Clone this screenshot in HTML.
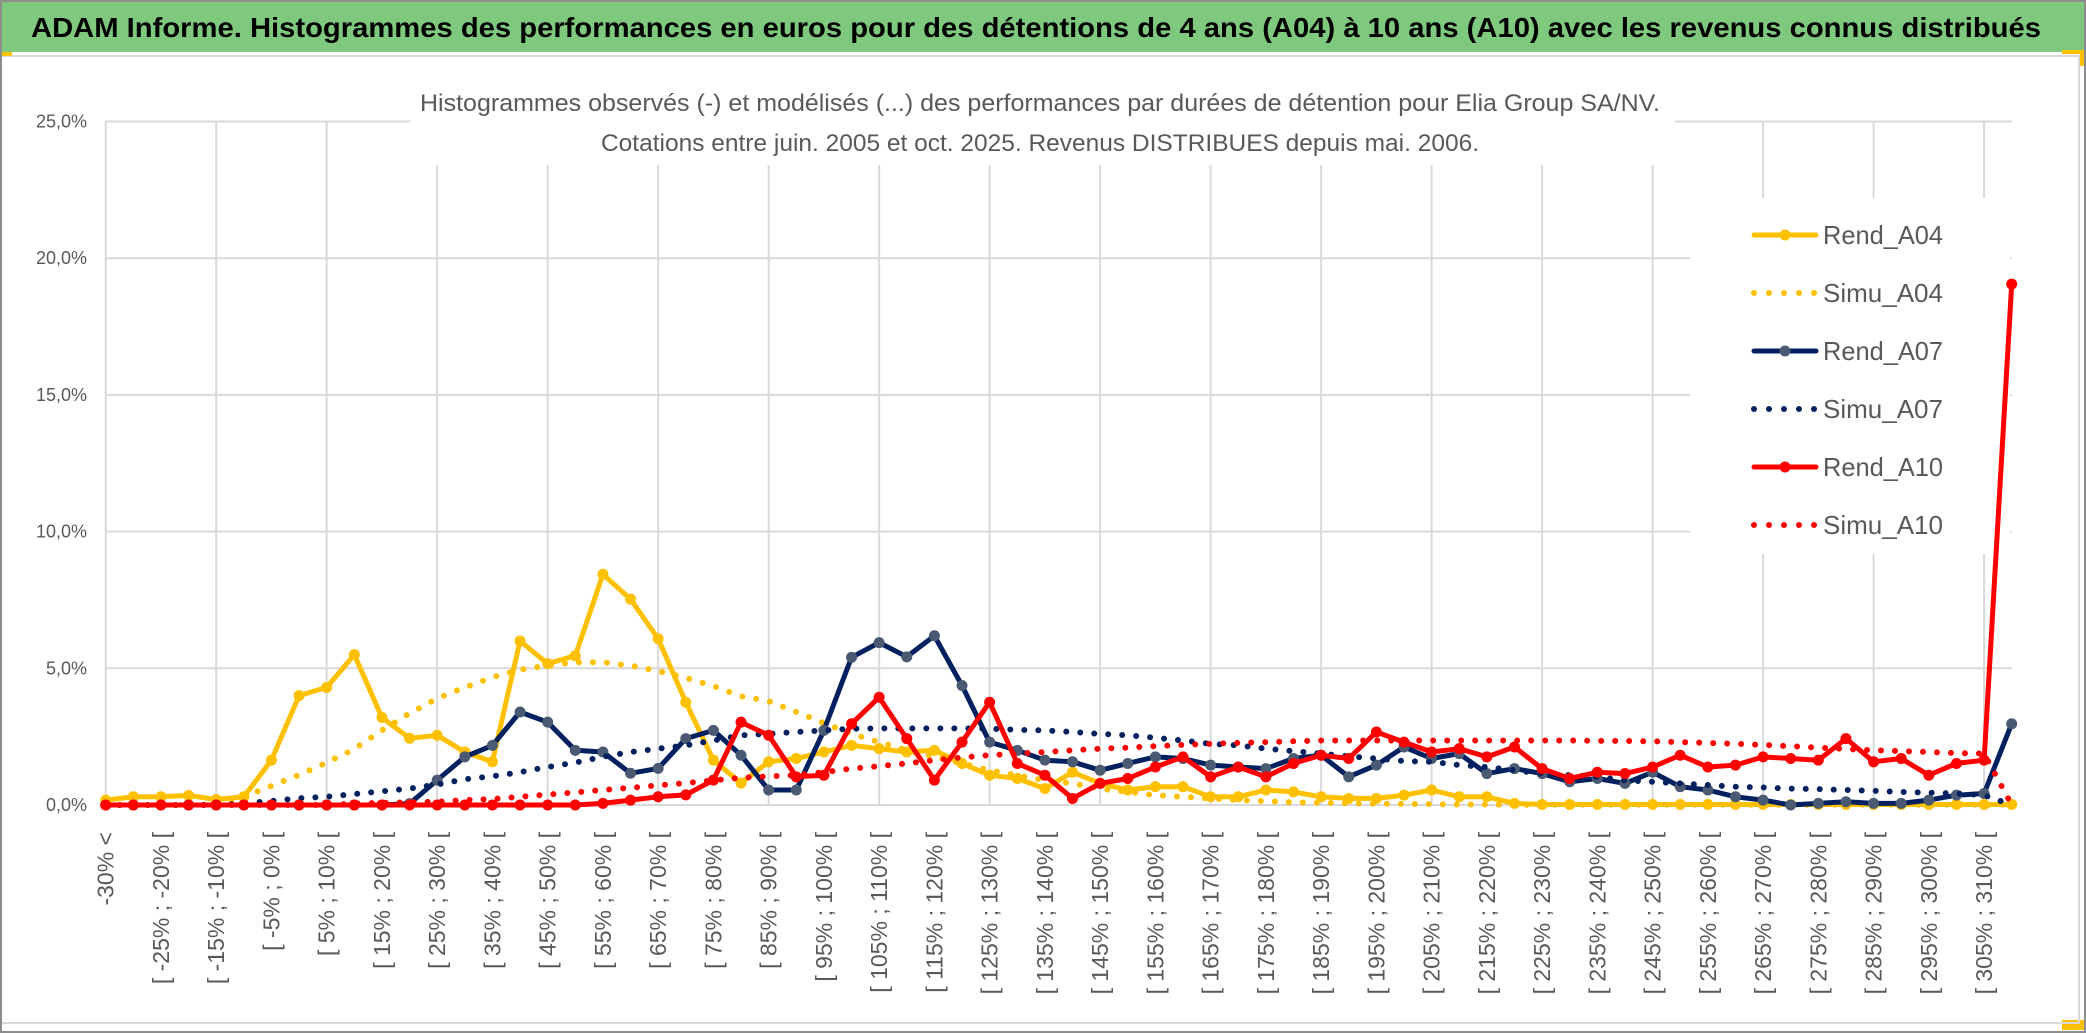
<!DOCTYPE html>
<html><head><meta charset="utf-8"><style>
html,body{margin:0;padding:0;background:#fff;}
svg{display:block;font-family:"Liberation Sans",sans-serif;}
</style></head><body>
<svg id="chart" width="2086" height="1033" viewBox="0 0 2086 1033">
  <rect x="0" y="0" width="2086" height="1033" fill="#fff"/>
  <rect x="1" y="1" width="2084" height="1031" fill="none" stroke="#8c8c8c" stroke-width="2"/>
  <rect x="2" y="2" width="2082" height="50" fill="#7fc97f"/>
  <line x1="2" y1="56" x2="2084" y2="56" stroke="#d9d9d9" stroke-width="2"/>
  <rect x="2" y="52" width="10" height="4" fill="#ffc000"/>
  <rect x="2062" y="50" width="22" height="4" fill="#ffc000"/>
  <rect x="2080" y="50" width="4" height="16" fill="#ffc000"/>
  <rect x="2062" y="1020" width="22" height="10" fill="#ffc000"/>
  <line x1="2" y1="1023" x2="2080" y2="1023" stroke="#d9d9d9" stroke-width="2"/>
  <line x1="2079" y1="56" x2="2079" y2="1023" stroke="#d9d9d9" stroke-width="2"/>
  <text x="31" y="37" font-size="28" font-weight="bold" fill="#000" textLength="2010" lengthAdjust="spacingAndGlyphs">ADAM Informe. Histogrammes des performances en euros pour des détentions de 4 ans (A04) à 10 ans (A10) avec les revenus connus distribués</text>
  <g id="grid"></g>
  <rect x="410" y="70" width="1265" height="95" fill="#fff"/>
  <text x="1040" y="111" font-size="24" fill="#595959" text-anchor="middle" textLength="1240" lengthAdjust="spacingAndGlyphs">Histogrammes observés (-) et modélisés (...) des performances par durées de détention pour Elia Group SA/NV.</text>
  <text x="1040" y="151" font-size="24" fill="#595959" text-anchor="middle" textLength="878" lengthAdjust="spacingAndGlyphs">Cotations entre juin. 2005 et oct. 2025. Revenus DISTRIBUES depuis mai. 2006.</text>
  <g id="yaxis"></g>
  <g id="xaxis"></g>
  <rect x="1690" y="198" width="320" height="356" fill="#fff"/>
  <g id="series"></g>
  <g id="legend"></g>
</svg>
<script>
const categories = (function(){const a=["-30% <"];for(let k=1;k<=69;k++){const lo=-35+5*k;a.push("[ "+lo+"% ; "+(lo+5)+"% [");}a[69]="310% <";return a;})();
const yTicks = [0,5,10,15,20,25];
const yTickLabels = ["0,0%","5,0%","10,0%","15,0%","20,0%","25,0%"];
const seriesNames = ["Rend_A04","Simu_A04","Rend_A07","Simu_A07","Rend_A10","Simu_A10"];
const rendA04 = [0.18,0.3,0.3,0.35,0.2,0.3,1.64,4.0,4.3,5.5,3.2,2.44,2.55,1.94,1.58,6.0,5.17,5.46,8.44,7.53,6.08,3.76,1.64,0.8,1.58,1.7,1.94,2.18,2.06,1.94,2.0,1.52,1.09,0.97,0.6,1.2,0.79,0.55,0.67,0.67,0.3,0.3,0.55,0.48,0.3,0.24,0.24,0.36,0.55,0.3,0.3,0.06,0.02,0.02,0.02,0.02,0.02,0.02,0.02,0.02,0.02,0.02,0.02,0.02,0.02,0.02,0.02,0.02,0.02,0.02];
const simuA04 = [0,0,0,0,0.02,0.3,0.7,1.1,1.55,2.05,2.73,3.35,3.9,4.3,4.67,4.95,5.1,5.22,5.22,5.1,4.9,4.65,4.35,3.98,3.8,3.4,3.0,2.6,2.3,2.0,1.76,1.52,1.27,1.09,0.9,0.79,0.6,0.48,0.36,0.3,0.24,0.18,0.14,0.1,0.08,0.06,0.05,0.04,0.03,0.02,0.02,0.01,0.01,0.01,0.01,0.01,0.01,0.01,0.01,0.01,0.01,0.01,0.01,0.01,0.01,0.01,0.01,0.01,0.01,0.01];
const rendA07 = [0,0,0,0,0,0,0,0,0,0,0,0.05,0.91,1.76,2.18,3.4,3.03,2.0,1.94,1.16,1.34,2.43,2.73,1.82,0.55,0.55,2.73,5.4,5.94,5.42,6.19,4.37,2.3,2.0,1.64,1.58,1.27,1.52,1.76,1.7,1.46,1.39,1.33,1.7,1.82,1.03,1.46,2.12,1.7,1.88,1.15,1.33,1.15,0.85,0.97,0.79,1.2,0.67,0.55,0.3,0.18,0,0.06,0.12,0.06,0.06,0.18,0.36,0.42,2.97];
const simuA07 = [0,0,0,0,0,0.05,0.15,0.25,0.3,0.4,0.5,0.6,0.75,0.94,1.05,1.2,1.39,1.55,1.76,1.94,2.06,2.18,2.36,2.55,2.6,2.67,2.73,2.79,2.8,2.8,2.8,2.8,2.79,2.75,2.73,2.67,2.6,2.55,2.46,2.36,2.24,2.18,2.06,1.97,1.88,1.78,1.7,1.61,1.58,1.46,1.39,1.27,1.15,1.09,1.03,0.9,0.85,0.79,0.73,0.67,0.64,0.6,0.58,0.55,0.52,0.48,0.45,0.42,0.36,0];
const rendA10 = [0,0,0,0,0,0,0,0,0,0,0,0,0,0,0,0,0,0,0.06,0.18,0.3,0.37,0.91,3.03,2.55,1.03,1.09,2.97,3.94,2.43,0.91,2.3,3.76,1.52,1.09,0.24,0.79,0.97,1.39,1.76,1.03,1.39,1.03,1.52,1.82,1.7,2.67,2.3,1.94,2.06,1.76,2.12,1.33,0.97,1.2,1.15,1.39,1.82,1.39,1.46,1.76,1.7,1.64,2.43,1.58,1.7,1.09,1.52,1.64,19.05];
const simuA10 = [0,0,0,0,0,0,0,0,0,0.05,0.08,0.1,0.12,0.18,0.22,0.3,0.38,0.46,0.55,0.63,0.72,0.8,0.9,1.0,1.05,1.09,1.2,1.33,1.42,1.52,1.64,1.74,1.82,1.88,1.94,2.0,2.06,2.1,2.15,2.2,2.24,2.27,2.3,2.33,2.36,2.36,2.36,2.36,2.36,2.36,2.36,2.36,2.36,2.36,2.35,2.34,2.33,2.3,2.27,2.24,2.2,2.15,2.1,2.05,2.0,1.97,1.94,1.9,1.88,0];

const NS="http://www.w3.org/2000/svg";
const X0=105.7, X1=2011.7, Y0=805, YTOP=121.5, YMAX=25;
function xPos(i){return X0+i*(X1-X0)/(categories.length-1);}
function yPos(v){return Y0-(v/YMAX)*(Y0-YTOP);}
function mk(tag,attrs,parent){const e=document.createElementNS(NS,tag);for(const k in attrs)e.setAttribute(k,attrs[k]);parent.appendChild(e);return e;}

const grid=document.getElementById('grid');
yTicks.forEach(function(t,j){
  const l=mk('line',{x1:X0,x2:X1,y1:yPos(t),y2:yPos(t),stroke:'#d9d9d9','stroke-width':2},grid);
  
  
});
for(let i=0;i<categories.length;i+=4){
  const l=mk('line',{x1:xPos(i),x2:xPos(i),y1:YTOP,y2:Y0,stroke:'#d9d9d9','stroke-width':2},grid);
  
  
}
const yaxis=document.getElementById('yaxis');
yTicks.forEach(function(t,j){
  const tx=mk('text',{x:87,y:yPos(t)+6,'font-size':18,fill:'#595959','text-anchor':'end'},yaxis);
  tx.textContent=yTickLabels[j];
  
  
});
const xaxis=document.getElementById('xaxis');
for(let i=0;i<categories.length-1;i+=2){
  const x=xPos(i)+8, y=832;
  const tx=mk('text',{x:x,y:y,'font-size':23,fill:'#595959','text-anchor':'end',transform:'rotate(-90 '+x+' '+y+')'},xaxis);
  tx.textContent=categories[i];
  
  
}
const series=document.getElementById('series');
const defs=[
 {data:rendA04,color:'#ffc000',marker:'#ffc000',solid:true},
 {data:simuA04,color:'#ffc000',solid:false},
 {data:rendA07,color:'#002060',marker:'#4a5a73',solid:true},
 {data:simuA07,color:'#002060',solid:false},
 {data:rendA10,color:'#ff0000',marker:'#ff0000',solid:true},
 {data:simuA10,color:'#ff0000',solid:false}
];
defs.forEach(function(d,si){
  const pts=d.data.map(function(v,i){return xPos(i).toFixed(1)+','+yPos(v).toFixed(1);}).join(' ');
  const pl=mk('polyline',{points:pts,fill:'none',stroke:d.color,'stroke-width':d.solid?5:6,'stroke-linejoin':'round','stroke-linecap':'round'},series);
  if(!d.solid){pl.setAttribute('stroke-dasharray','0 14');}
  
  
  if(d.solid){
    d.data.forEach(function(v,i){
      const c=mk('circle',{cx:xPos(i),cy:yPos(v),r:5.5,fill:d.marker},series);
      
      
    });
  }
});
const legend=document.getElementById('legend');
seriesNames.forEach(function(n,k){
  const d=defs[k]; const y=235+k*58;
  const l=mk('line',{x1:1754,x2:1816,y1:y,y2:y,stroke:d.color,'stroke-width':d.solid?5:6,'stroke-linecap':'round'},legend);
  if(!d.solid){l.setAttribute('stroke-dasharray','0 15');}
  
  
  if(d.solid){
    const c=mk('circle',{cx:1785,cy:y,r:5.5,fill:d.marker},legend);
    
    
  }
  const t=mk('text',{x:1823,y:y+9,'font-size':26,fill:'#595959',textLength:120,lengthAdjust:'spacingAndGlyphs'},legend);
  t.textContent=n;
  
  
});
</script>
</body></html>
